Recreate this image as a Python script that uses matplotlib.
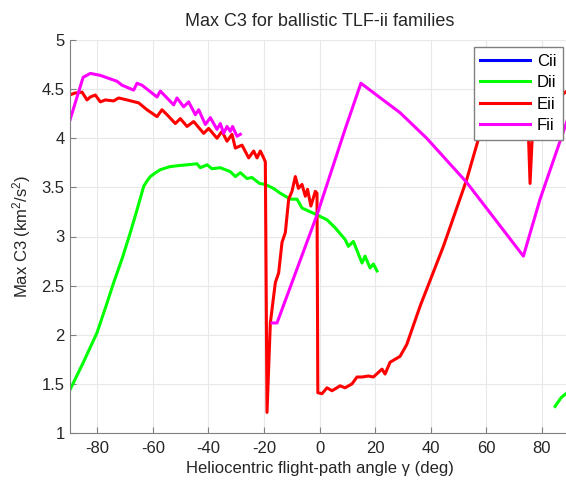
import numpy as np
import matplotlib
matplotlib.use("Agg")
import matplotlib.pyplot as plt

plt.rcParams['font.family'] = ['Liberation Sans', 'DejaVu Sans']
plt.rcParams['mathtext.fontset'] = 'custom'
plt.rcParams['mathtext.rm'] = 'Liberation Sans'
plt.rcParams['mathtext.it'] = 'Liberation Sans:italic'
plt.rcParams['axes.unicode_minus'] = False

# Cii has no points in range
cii_x = []
cii_y = []

dii_x = [-90, -85.0, -80.1, -77.0, -74.1, -71.0, -68.1, -65.5, -63.3, -62.0, -60.9, -59.0,
         -57.3, -54.0, -51.3, -44.1, -42.9, -40.5, -38.7,
         -35.7, -32.1, -30.3, -28.5, -26.1, -24.3, -21.6, -19.5, -16.6, -14.1, -10.5, -8.1,
         -6.3, -0.9, 2.7, 5.6, 9.2, 10.4, 12.2, 15.3, 16.4, 18.2, 19.4, 20.7,
         np.nan, 84.8, 87.0, 90.0]
dii_y = [1.43, 1.72, 2.02, 2.28, 2.53, 2.78, 3.04, 3.29, 3.51, 3.57, 3.61, 3.65,
         3.68, 3.71, 3.72, 3.74, 3.70, 3.73, 3.69,
         3.70, 3.66, 3.61, 3.65, 3.59, 3.60, 3.54, 3.53, 3.49, 3.44, 3.38, 3.38,
         3.29, 3.22, 3.17, 3.09, 2.97, 2.90, 2.95, 2.73, 2.80, 2.68, 2.72, 2.65,
         np.nan, 1.27, 1.36, 1.43]

eii_x = [-90, -88, -85.5, -83.7, -82.5, -80.7, -78.9, -77.1, -74.1, -72.3, -69.3, -65.1,
         -62.1, -58.5, -56.7, -54.9, -51.9, -50.1, -47.7, -45.3, -41.7, -39.9, -36.9, -35.1,
         -33.3, -31.5, -30.3, -27.9, -25.5, -23.7, -22.5, -21.3, -20.1, -19.5, -18.9, -17.7,
         -15.9, -14.7, -13.5, -12.3, -11.1, -9.9, -8.7, -7.6, -6.3, -5.1, -4.3, -3.1,
         -1.5, -0.9, -0.6, 0.9, 2.7, 4.5, 7.4, 9.2, 11.7, 13.5, 15.3, 17.6,
         19.4, 22.5, 23.6, 25.4, 29.0, 31.4, 36.2, 44.6, 53.0, 57.8, 62.0, 66.0,
         72.0, 74.8, 75.8, 76.9, 80.0, 87.2, 90.0]
eii_y = [4.44, 4.46, 4.47, 4.39, 4.42, 4.44, 4.37, 4.39, 4.38, 4.41, 4.39, 4.36,
         4.29, 4.22, 4.29, 4.24, 4.15, 4.20, 4.12, 4.17, 4.05, 4.10, 4.00, 4.07,
         3.97, 4.04, 3.90, 3.93, 3.80, 3.87, 3.80, 3.87, 3.80, 3.76, 1.21, 2.12,
         2.53, 2.63, 2.94, 3.04, 3.38, 3.46, 3.61, 3.49, 3.53, 3.41, 3.48, 3.31,
         3.46, 3.44, 1.41, 1.40, 1.46, 1.43, 1.48, 1.46, 1.50, 1.57, 1.57, 1.58,
         1.57, 1.65, 1.60, 1.72, 1.78, 1.90, 2.29, 2.90, 3.58, 4.05, 4.45, 4.55,
         4.55, 4.40, 3.54, 4.20, 4.30, 4.44, 4.50]

fii_x = [-90, -85.1, -82.5, -78.9, -72.9, -71.1, -66.9, -65.7, -63.9, -58.5, -57.3, -54.9,
         -52.5, -51.3, -48.9, -47.1, -44.7, -43.5, -41.1, -39.3, -36.9, -35.7, -34.5, -33.3,
         -32.1, -31.3, -29.7, -28.5,
         np.nan, -17.1, -15.3, -0.9, 9.2, 14.9, 29.0, 38.6, 53.0, 73.4, 79.4, 88.8, 90.0]
fii_y = [4.17, 4.62, 4.66, 4.64, 4.58, 4.54, 4.49, 4.56, 4.54, 4.42, 4.48, 4.41,
         4.34, 4.41, 4.32, 4.37, 4.24, 4.29, 4.14, 4.21, 4.09, 4.15, 4.05, 4.12,
         4.07, 4.12, 4.02, 4.04,
         np.nan, 2.12, 2.12, 3.22, 4.09, 4.56, 4.26, 4.00, 3.55, 2.80, 3.38, 4.15, 4.25]

series = [("Cii", cii_x, cii_y, (0, 0, 1)),
          ("Dii", dii_x, dii_y, (0, 1, 0)),
          ("Eii", eii_x, eii_y, (1, 0, 0)),
          ("Fii", fii_x, fii_y, (1, 0, 1))]

fig = plt.figure(figsize=(5.66, 4.82), dpi=100)
# axes run a bit past the right edge, like the cropped original
ax = fig.add_axes([69.5 / 566, 1 - 433 / 482, 500 / 566, 393 / 482])

for name, xs, ys, col in series:
    ax.plot(xs, ys, color=col, lw=2.2, label=name)

ax.set_xlim(-90, 90)
ax.set_ylim(1, 5)
ax.set_xticks(np.arange(-80, 81, 20))
ax.set_yticks(np.arange(1, 5.01, 0.5))
ax.set_yticklabels(["1", "1.5", "2", "2.5", "3", "3.5", "4", "4.5", "5"])
ax.grid(True, color="#e8e8e8", lw=0.8)
ax.set_axisbelow(True)
for s in ["top", "right"]:
    ax.spines[s].set_visible(False)
for s in ["left", "bottom"]:
    ax.spines[s].set_color("#808080")
ax.tick_params(direction="in", length=4, color="#808080", labelsize=12,
               labelcolor="#262626")
ax.tick_params(axis="x", pad=6)

ax.set_title("Max C3 for ballistic TLF-ii families", fontsize=13, pad=10, color="#262626")
ax.set_xlabel("Heliocentric flight-path angle \u03b3 (deg)", fontsize=12, labelpad=3,
              color="#262626")
ax.set_ylabel("Max C3 (km$^2$/s$^2$)", fontsize=12, labelpad=6, color="#262626")

leg = ax.legend(loc="upper right", bbox_to_anchor=(563 / 566, 1 - 47 / 482),
                bbox_transform=fig.transFigure, fontsize=12, fancybox=False,
                framealpha=1, edgecolor="#808080", handlelength=3.0,
                labelspacing=0.39, borderpad=0.4, handletextpad=0.4,
                borderaxespad=0)
leg.get_frame().set_linewidth(1.0)
leg.set_zorder(10)

fig.savefig("out.png", dpi=100)
